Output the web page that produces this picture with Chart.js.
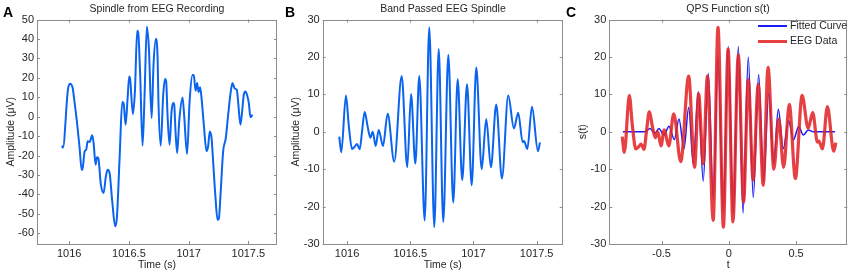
<!DOCTYPE html>
<html>
<head>
<meta charset="utf-8">
<script src="https://cdn.jsdelivr.net/npm/chart.js@4.4.1/dist/chart.umd.min.js"></script>
<style>
  body { margin: 0; background: #fff; }
  #wrap { position: relative; width: 854px; height: 275px; overflow: hidden; font-family: "Liberation Sans", Arial, sans-serif; color: #262626; }
  canvas { position: absolute; top: 0; }
  .ttl { position: absolute; top: 2px; font-size: 10.5px; line-height: 12px; text-align: center; white-space: nowrap; }
  .lbl { position: absolute; top: 5px; font-size: 14px; line-height: 14px; font-weight: bold; color: #000; }
  .leg { position: absolute; font-size: 10.5px; line-height: 13px; white-space: nowrap; }
  .leg span { display: inline-block; width: 29px; vertical-align: middle; margin-right: 3px; }
</style>
</head>
<body>
<div id="wrap">
  <canvas id="chartA" width="285" height="275" style="left:0px"></canvas>
  <canvas id="chartB" width="285" height="275" style="left:285px"></canvas>
  <canvas id="chartC" width="284" height="275" style="left:570px"></canvas>

  <div class="lbl" style="left:3px">A</div>
  <div class="lbl" style="left:285px">B</div>
  <div class="lbl" style="left:566px">C</div>

  <div class="ttl" style="left:37px;width:240px">Spindle from EEG Recording</div>
  <div class="ttl" style="left:323px;width:240px">Band Passed EEG Spindle</div>
  <div class="ttl" style="left:609px;width:238px">QPS Function s(t)</div>

  <div id="legendC"></div>
</div>
<script>
// A: raw EEG recording (time in s, amplitude in uV)
const rawTime = [1015.939, 1015.947, 1015.989, 1016.006, 1016.028, 1016.042, 1016.064, 1016.087, 1016.104, 1016.115,
  1016.129, 1016.142, 1016.154, 1016.171, 1016.192, 1016.204, 1016.221, 1016.232, 1016.243, 1016.265,
  1016.288, 1016.305, 1016.321, 1016.338, 1016.360, 1016.385, 1016.399, 1016.422, 1016.444, 1016.455,
  1016.472, 1016.489, 1016.502, 1016.510, 1016.533, 1016.550, 1016.569, 1016.577, 1016.594, 1016.614,
  1016.631, 1016.650, 1016.667, 1016.690, 1016.706, 1016.726, 1016.740, 1016.747, 1016.766, 1016.787,
  1016.803, 1016.812, 1016.823, 1016.840, 1016.857, 1016.870, 1016.879, 1016.890, 1016.904, 1016.921,
  1016.949, 1016.962, 1016.987, 1017.008, 1017.033, 1017.044, 1017.058, 1017.071, 1017.083, 1017.096,
  1017.108, 1017.127, 1017.150, 1017.163, 1017.177, 1017.192, 1017.205, 1017.225, 1017.242, 1017.253,
  1017.267, 1017.289, 1017.311, 1017.331, 1017.353, 1017.367, 1017.387, 1017.403, 1017.414, 1017.434,
  1017.448, 1017.462, 1017.476, 1017.490, 1017.504, 1017.518, 1017.535];
const rawAmp = [-14.9, -16.0, 13.9, 17.0, 15.0, 8.7, -2.4, -16.1, -27.4, -25.5,
  -17.8, -17.0, -12.7, -13.0, -9.6, -13.5, -24.7, -20.9, -21.3, -35.0,
  -39.2, -31.5, -27.3, -29.0, -43.5, -56.4, -52.0, -21.0, 7.5, 7.0,
  -4.1, 9.6, 20.7, 19.5, 1.4, 13.0, 44.2, 43.5, 21.6, -14.9,
  11.3, 46.3, 35.3, -0.7, 26.7, 40.1, 30.2, 8.0, -14.9, 11.3,
  19.4, 18.0, 1.0, -14.4, 2.7, 7.0, 6.3, -7.5, -18.7, -2.4,
  9.9, 1.0, -19.2, 7.9, 21.6, 21.0, 13.4, 17.3, 12.7, 15.1,
  9.6, -4.1, -17.8, -15.3, -7.6, -11.0, -23.0, -41.8, -53.0, -52.5,
  -40.1, -17.8, -11.0, 1.0, 13.0, 17.3, 14.4, 13.9, 7.9, -4.1,
  2.7, 11.3, 13.0, 11.0, 7.0, -0.3, 1.0];

// B: band passed spindle
const bandTime = [1015.938, 1015.954, 1015.991, 1016.013, 1016.039, 1016.060, 1016.078, 1016.100, 1016.118, 1016.139,
  1016.163, 1016.184, 1016.203, 1016.226, 1016.250, 1016.284, 1016.321, 1016.373, 1016.432, 1016.476,
  1016.506, 1016.540, 1016.571, 1016.614, 1016.650, 1016.690, 1016.725, 1016.761, 1016.801, 1016.840,
  1016.875, 1016.911, 1016.949, 1016.986, 1017.022, 1017.065, 1017.101, 1017.138, 1017.180, 1017.225,
  1017.275, 1017.320, 1017.354, 1017.389, 1017.400, 1017.426, 1017.463, 1017.510, 1017.526];
const bandAmp = [-1.3, -5.5, 9.7, 1.8, -4.6, -4.0, -3.3, -4.7, 0.0, 5.3,
  1.3, -1.6, 0.0, -3.8, 0.5, -3.8, 4.8, -8.0, 14.9, -9.5,
  10.1, -8.5, 14.9, -23.7, 27.9, -25.5, 22.1, -24.1, 20.6, -18.9,
  14.0, -12.9, 12.7, -14.3, 17.2, -10.0, 3.4, -9.5, 7.3, -12.5,
  9.7, 0.9, 5.1, -2.8, -2.5, -4.6, 6.7, -5.2, -2.9];

// C: the band passed data is re-centred on the spindle, plus the fitted QPS curve
const spindleCenter = 1016.73;
const fitTime = [-0.787, -0.62, -0.586, -0.549, -0.519, -0.482, -0.444, -0.405, -0.370, -0.333,
  -0.298, -0.264, -0.227, -0.190, -0.152, -0.115, -0.080, -0.041, -0.004, 0.033,
  0.071, 0.106, 0.145, 0.182, 0.222, 0.259, 0.297, 0.334, 0.368, 0.405,
  0.445, 0.480, 0.520, 0.554, 0.591, 0.630, 0.790];
const fitAmp = [0, 0, 0.9, -0.4, 0.9, -0.9, 1.5, -2.1, 3.4, -4.6,
  6.5, -8.5, 10.7, -13.2, 15.6, -18.0, 20.0, -21.5, 22.8, -22.0,
  22.8, -21.7, 19.9, -17.6, 15.3, -13.2, 10.2, -8.5, 6.0, -4.5,
  3.0, -2.2, 1.4, -0.9, 0.5, 0, 0];

const timeTicksA = [1016, 1016.5, 1017, 1017.5];
const timeTicksB = [1016, 1016.5, 1017, 1017.5];
const tTicksC = [-0.5, 0, 0.5];
const ampTicksA = [-60, -50, -40, -30, -20, -10, 0, 10, 20, 30, 40, 50];
const ampTicksB = [-30, -20, -10, 0, 10, 20, 30];

const FONT = '"Liberation Sans", Arial, sans-serif';
const TEXT = '#262626';
const BOX = '#8c8c8c';

const toPoints = (xs, ys) => xs.map((x, i) => ({ x: x, y: ys[i] }));

// matlab style box with inward ticks on all four sides
const boxPlugin = {
  id: 'box',
  afterDatasetsDraw(chart) {
    const { ctx, chartArea: a, scales } = chart;
    ctx.save();
    ctx.strokeStyle = BOX;
    ctx.lineWidth = 1;
    ctx.strokeRect(Math.round(a.left) + 0.5, Math.round(a.top) + 0.5, Math.round(a.width) - 1, Math.round(a.height) - 1);
    ctx.beginPath();
    scales.x.ticks.forEach(t => {
      const px = Math.round(scales.x.getPixelForValue(t.value)) + 0.5;
      ctx.moveTo(px, a.bottom); ctx.lineTo(px, a.bottom - 3);
      ctx.moveTo(px, a.top); ctx.lineTo(px, a.top + 3);
    });
    scales.y.ticks.forEach(t => {
      const py = Math.round(scales.y.getPixelForValue(t.value)) + 0.5;
      ctx.moveTo(a.left, py); ctx.lineTo(a.left + 3, py);
      ctx.moveTo(a.right, py); ctx.lineTo(a.right - 3, py);
    });
    ctx.stroke();
    ctx.restore();
  }
};

function makeOptions(o) {
  return {
    responsive: false,
    animation: false,
    layout: { autoPadding: false, padding: { top: 19.5, right: o.padRight, left: 0, bottom: 0 } },
    plugins: { legend: { display: false }, tooltip: { enabled: false } },
    elements: { point: { radius: 0 } },
    scales: {
      x: {
        type: 'linear',
        min: o.xMin,
        max: o.xMax,
        grid: { display: false, drawTicks: false },
        border: { display: false },
        afterBuildTicks: (axis) => { axis.ticks = o.xTicks.map(v => ({ value: v })); },
        afterFit: (axis) => { axis.height = 31; },
        ticks: {
          padding: 3,
          maxRotation: 0,
          autoSkip: false,
          color: TEXT,
          font: { family: FONT, size: 11 },
          callback: (v) => String(v)
        },
        title: {
          display: true,
          text: o.xTitle,
          color: TEXT,
          padding: { top: 0, bottom: 3.7 },
          font: { family: FONT, size: 10.5 }
        }
      },
      y: {
        type: 'linear',
        min: o.yMin,
        max: o.yMax,
        grid: { display: false, drawTicks: false },
        border: { display: false },
        afterBuildTicks: (axis) => { axis.ticks = o.yTicks.map(v => ({ value: v })); },
        afterFit: (axis) => { axis.width = o.yWidth; },
        ticks: {
          padding: 3,
          autoSkip: false,
          color: TEXT,
          font: { family: FONT, size: 11 },
          callback: (v) => String(v)
        },
        title: {
          display: true,
          text: o.yTitle,
          color: TEXT,
          padding: { top: o.yTitlePad, bottom: 0 },
          font: { family: FONT, size: 10.5 }
        }
      }
    }
  };
}

const lineStyle = {
  borderColor: '#0a64f0',
  borderWidth: 2,
  cubicInterpolationMode: 'monotone',
  fill: false
};

new Chart(document.getElementById('chartA'), {
  type: 'line',
  data: { datasets: [{ label: 'Spindle from EEG Recording', data: toPoints(rawTime, rawAmp), ...lineStyle }] },
  options: makeOptions({
    xMin: 1015.73, xMax: 1017.74, xTicks: timeTicksA,
    yMin: -65.5, yMax: 50, yTicks: ampTicksA,
    yWidth: 37, padRight: 8, xTitle: 'Time (s)', yTitle: 'Amplitude (\u03bcV)', yTitlePad: 4.7
  }),
  plugins: [boxPlugin]
});

new Chart(document.getElementById('chartB'), {
  type: 'line',
  data: { datasets: [{ label: 'Band Passed EEG Spindle', data: toPoints(bandTime, bandAmp), ...lineStyle }] },
  options: makeOptions({
    xMin: 1015.807, xMax: 1017.706, xTicks: timeTicksB,
    yMin: -30, yMax: 30, yTicks: ampTicksB,
    yWidth: 37.7, padRight: 7.3, xTitle: 'Time (s)', yTitle: 'Amplitude (\u03bcV)', yTitlePad: 4.4
  }),
  plugins: [boxPlugin]
});

const chartC = new Chart(document.getElementById('chartC'), {
  type: 'line',
  data: {
    datasets: [
      {
        label: 'Fitted Curve',
        data: toPoints(fitTime, fitAmp),
        borderColor: '#1c1cf5',
        borderWidth: 1.5,
        cubicInterpolationMode: 'monotone',
        fill: false,
        order: 1
      },
      {
        label: 'EEG Data',
        data: toPoints(bandTime.map(t => t - spindleCenter), bandAmp),
        borderColor: 'rgba(228, 38, 40, 0.88)',
        borderWidth: 3.2,
        cubicInterpolationMode: 'monotone',
        fill: false,
        order: 0
      }
    ]
  },
  options: makeOptions({
    xMin: -0.888, xMax: 0.881, xTicks: tTicksC,
    yMin: -30, yMax: 30, yTicks: ampTicksB,
    yWidth: 39.3, padRight: 6.7, xTitle: 't', yTitle: 's(t)', yTitlePad: 6.7
  }),
  plugins: [boxPlugin]
});

// legend drawn from the chart's own datasets
const legendC = document.getElementById('legendC');
chartC.data.datasets.forEach((ds, i) => {
  const row = document.createElement('div');
  row.className = 'leg';
  row.style.left = '758px';
  row.style.top = (18.5 + i * 15.7) + 'px';
  const sw = document.createElement('span');
  sw.style.borderTop = (i === 0 ? 2 : 3) + 'px solid ' + ds.borderColor;
  row.appendChild(sw);
  row.appendChild(document.createTextNode(ds.label));
  legendC.appendChild(row);
});
</script>
</body>
</html>
